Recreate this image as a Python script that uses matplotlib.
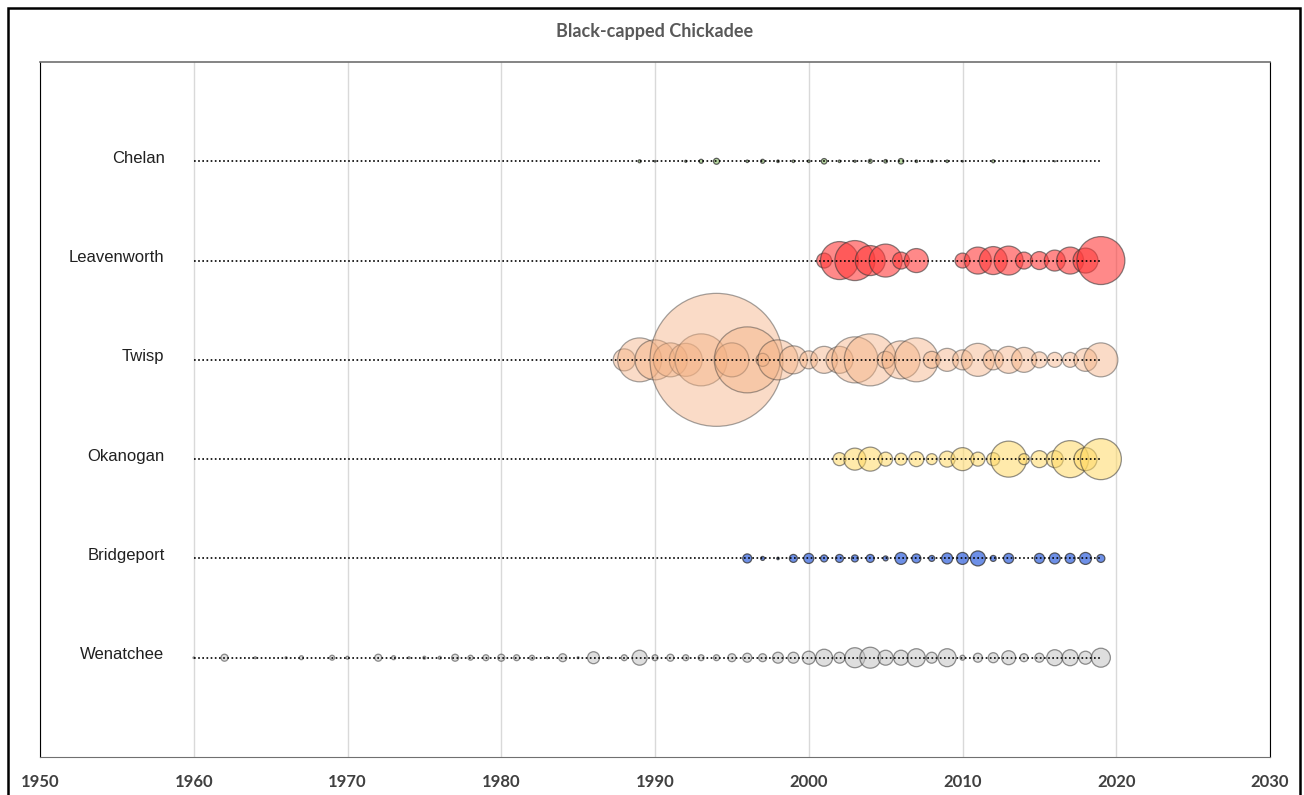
import numpy as np
import matplotlib

matplotlib.use("Agg")
import matplotlib.pyplot as plt
from matplotlib.patches import Rectangle

# birds per party-hour by year (bubble area ~ value)
chelan_years = [1989, 1990, 1992, 1993, 1994, 1996, 1997, 1998, 1999, 2000, 2001, 2002,
                2003, 2004, 2005, 2006, 2007, 2008, 2009, 2010, 2012, 2014, 2016]
chelan_vals = [0.051, 0.013, 0.023, 0.09, 0.20, 0.035, 0.09, 0.035, 0.035, 0.035, 0.17, 0.035,
               0.023, 0.09, 0.07, 0.17, 0.035, 0.035, 0.035, 0.013, 0.051, 0.013, 0.006]

leavenworth_years = [2001, 2002, 2003, 2004, 2005, 2006, 2007, 2010, 2011, 2012, 2013,
                     2014, 2015, 2016, 2017, 2018, 2019]
leavenworth_vals = [1.27, 8.16, 9.05, 5.09, 6.16, 1.63, 3.26, 1.27, 4.12, 4.43, 4.75,
                    1.63, 1.83, 2.49, 4.12, 3.53, 13.0]

twisp_years = list(range(1988, 2020))
twisp_vals = [2.74, 10.9, 9.05, 6.53, 6.16, 15.3, 100.0, 6.53, 24.6, 0.96, 9.05, 4.43,
              1.83, 4.12, 4.12, 12.0, 15.3, 1.63, 8.16, 10.9, 1.63, 2.99, 2.26, 6.16,
              2.26, 4.12, 3.53, 1.45, 1.27, 1.27, 2.99, 6.53]

okanogan_years = list(range(2002, 2020))
okanogan_vals = [0.96, 2.74, 3.26, 1.11, 0.81, 1.27, 0.68, 1.45, 2.99, 1.11, 0.96, 7.33,
                 0.68, 1.63, 1.63, 7.74, 2.99, 9.5]

bridgeport_years = [1996, 1997, 1998, 1999, 2000, 2001, 2002, 2003, 2004, 2005, 2006, 2007,
                    2008, 2009, 2010, 2011, 2012, 2013, 2015, 2016, 2017, 2018, 2019]
bridgeport_vals = [0.46, 0.09, 0.035, 0.36, 0.57, 0.28, 0.36, 0.28, 0.36, 0.14, 0.81, 0.46,
                   0.2, 0.68, 0.81, 1.27, 0.2, 0.57, 0.57, 0.68, 0.57, 0.81, 0.36]

wenatchee_years = [1960, 1962, 1964, 1966, 1967, 1969, 1970, 1972, 1973, 1974, 1975, 1976,
                   1977, 1978, 1979, 1980, 1981, 1982, 1983, 1984, 1985, 1986, 1987, 1988,
                   1989, 1990, 1991, 1992, 1993, 1994, 1995, 1996, 1997, 1998, 1999, 2000,
                   2001, 2002, 2003, 2004, 2005, 2006, 2007, 2008, 2009, 2010, 2011, 2012,
                   2013, 2014, 2015, 2016, 2017, 2018, 2019]
wenatchee_vals = [0.013, 0.28, 0.023, 0.023, 0.09, 0.14, 0.05, 0.28, 0.09, 0.023, 0.05, 0.05,
                  0.28, 0.14, 0.2, 0.28, 0.2, 0.14, 0.023, 0.36, 0.023, 0.81, 0.023, 0.2,
                  1.27, 0.2, 0.28, 0.2, 0.2, 0.2, 0.36, 0.46, 0.36, 0.68, 0.68, 0.96,
                  1.63, 0.68, 2.26, 2.49, 1.27, 1.27, 1.83, 0.68, 1.83, 0.14, 0.46, 0.57,
                  1.11, 0.36, 0.46, 1.45, 1.45, 0.96, 2.04]

sites = ["Wenatchee", "Bridgeport", "Okanogan", "Twisp", "Leavenworth", "Chelan"]
site_years = [wenatchee_years, bridgeport_years, okanogan_years, twisp_years,
              leavenworth_years, chelan_years]
site_vals = [wenatchee_vals, bridgeport_vals, okanogan_vals, twisp_vals,
             leavenworth_vals, chelan_vals]
colors = ["#c4c4c4", "#4a74e2", "#ffd966", "#f4b183", "#ff3b3b", "#a9d18e"]
alphas = [0.55, 0.8, 0.55, 0.45, 0.6, 0.8]
line_start, line_end = 1960, 2019
x_ticks = list(range(1950, 2031, 10))

SIZE_SCALE = 91.7  # points^2 per unit

fig = plt.figure(figsize=(13.04, 7.95), dpi=100)
ax = fig.add_axes([40 / 1304, 1 - 757 / 795, 1230 / 1304, 695 / 795])

for i, (name, yrs, vals) in enumerate(zip(sites, site_years, site_vals)):
    y = i + 1
    ax.plot([line_start, line_end], [y, y], linestyle=(0, (1, 1.5)), color="black",
            lw=1.2, zorder=4)
    ax.scatter(yrs, np.full(len(yrs), y), s=np.array(vals) * SIZE_SCALE,
               color=colors[i], alpha=alphas[i], edgecolors="#383838",
               linewidths=0.9, zorder=3)
    ax.text(1958.1, y + 0.03, name, ha="right", va="center", fontsize=12,
            family="Liberation Sans", color="#202020")

ax.set_xlim(1950, 2030)
ax.set_ylim(0, 7)
ax.set_xticks(x_ticks)
ax.set_xticklabels([str(t) for t in x_ticks], fontsize=12, fontweight="bold",
                   family="Lato", color="#404040")
ax.set_yticks([])
ax.tick_params(axis="x", length=0, pad=12)
ax.grid(axis="x", color="#d9d9d9", lw=1)
ax.set_axisbelow(True)
for side in ["left", "right"]:
    ax.spines[side].set_color("black")
    ax.spines[side].set_linewidth(0.8)
ax.spines["top"].set_color("#707070")
ax.spines["top"].set_linewidth(1.2)
ax.spines["bottom"].set_color("#707070")
ax.spines["bottom"].set_linewidth(0.8)

fig.text(655 / 1304, 1 - 32 / 795, "Black-capped Chickadee", ha="center", va="center",
         fontsize=13, fontweight="bold", family="Lato", color="#595959")

fig.patches.append(Rectangle((8 / 1304, -0.02), 1292 / 1304, 1.0 - 8 / 795 + 0.02,
                             transform=fig.transFigure, fill=False, edgecolor="black",
                             lw=1.8))

fig.savefig("out.png", dpi=100)
plt.close(fig)
